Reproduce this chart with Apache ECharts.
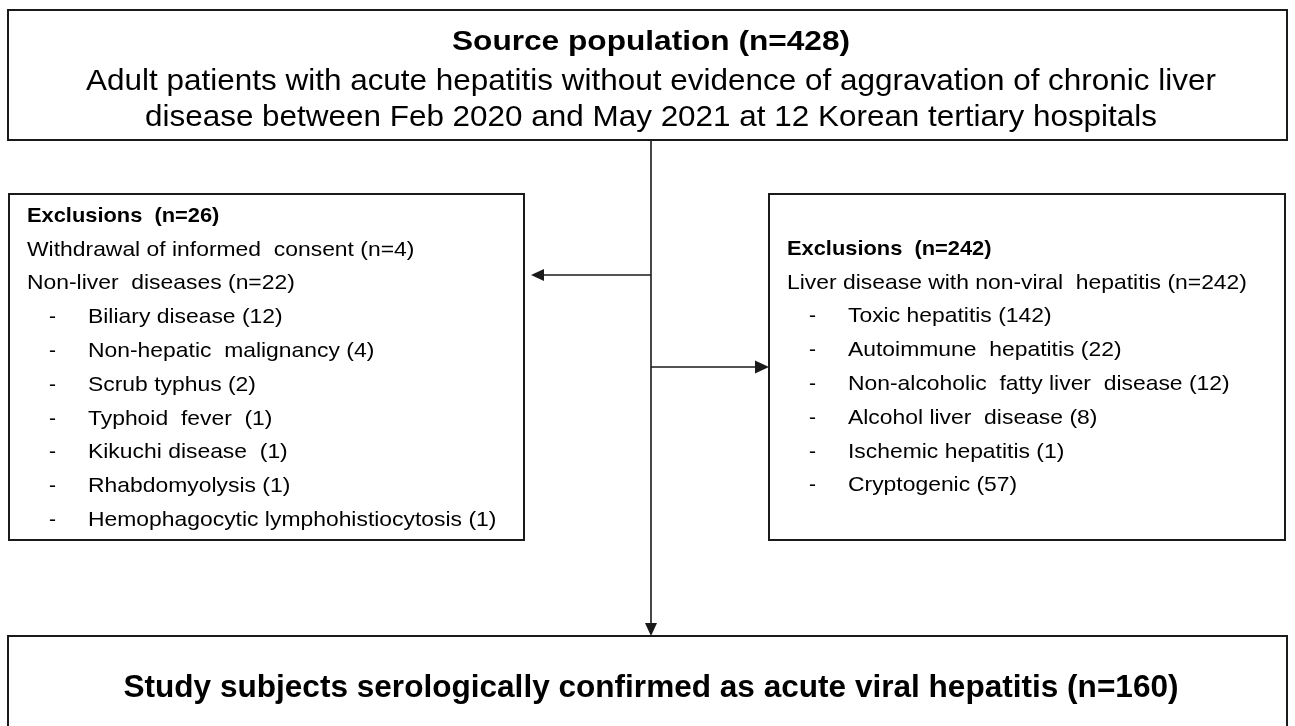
<!DOCTYPE html>
<html>
<head>
<meta charset="utf-8">
<script src="https://cdn.jsdelivr.net/npm/echarts@6/dist/echarts.min.js"></script>
<style>
html, body { margin: 0; padding: 0; background: #fff; }
#chart { width: 1295px; height: 726px; }
</style>
</head>
<body>
<div id="chart"></div>
<script>
// texts of the flow chart
let sourceTitle = 'Source population (n=428)';
let sourceLines = [
    'Adult patients with acute hepatitis without evidence of aggravation of chronic liver',
    'disease between Feb 2020 and May 2021 at 12 Korean tertiary hospitals'
];
let leftTitle = 'Exclusions  (n=26)';
let leftLines = ['Withdrawal of informed  consent (n=4)', 'Non-liver  diseases (n=22)'];
let leftItems = [
    'Biliary disease (12)',
    'Non-hepatic  malignancy (4)',
    'Scrub typhus (2)',
    'Typhoid  fever  (1)',
    'Kikuchi disease  (1)',
    'Rhabdomyolysis (1)',
    'Hemophagocytic lymphohistiocytosis (1)'
];
let rightTitle = 'Exclusions  (n=242)';
let rightLines = ['Liver disease with non-viral  hepatitis (n=242)'];
let rightItems = [
    'Toxic hepatitis (142)',
    'Autoimmune  hepatitis (22)',
    'Non-alcoholic  fatty liver  disease (12)',
    'Alcohol liver  disease (8)',
    'Ischemic hepatitis (1)',
    'Cryptogenic (57)'
];
let finalText = 'Study subjects serologically confirmed as acute viral hepatitis (n=160)';

// layout
const FONT = '"Liberation Sans", Arial, sans-serif';
const STROKE = '#1a1a1a';
const topBox = {x: 8, y: 10, w: 1279, h: 130};
const leftBox = {x: 9, y: 194, w: 515, h: 346};
const rightBox = {x: 769, y: 194, w: 516, h: 346};
const bottomBox = {x: 8, y: 636, w: 1279, h: 120};
const spineX = 651;
const step = 33.8;
const boxStretch = 1.09;

let measure = document.createElement('canvas').getContext('2d');
function fontOf(size, weight) {
    return weight + ' ' + size + 'px ' + FONT;
}
function box(b) {
    return {
        type: 'rect',
        shape: {x: b.x, y: b.y, width: b.w, height: b.h},
        style: {fill: '#fff', stroke: STROKE, lineWidth: 2}
    };
}
function txt(x, y, s, size, weight, align, sx) {
    return {
        type: 'text', x: x, y: y, scaleX: sx || 1,
        style: {
            text: s, font: fontOf(size, weight), fill: '#000',
            align: align, verticalAlign: 'middle'
        }
    };
}
// centred text stretched to a given width
function fitted(y, s, size, weight, width) {
    measure.font = fontOf(size, weight);
    return txt(spineX, y, s, size, weight, 'center', width / measure.measureText(s).width);
}
function line(x1, y1, x2, y2) {
    return {
        type: 'line',
        shape: {x1: x1, y1: y1, x2: x2, y2: y2},
        style: {stroke: STROKE, lineWidth: 1.6}
    };
}
function head(pts) {
    return {type: 'polygon', shape: {points: pts}, style: {fill: STROKE}};
}
function listBox(b, title, lines, items, x0, y0) {
    let out = [box(b)];
    let y = y0;
    out.push(txt(x0, y, title, 21, 'bold', 'left', 1.04));
    lines.forEach(function (s) {
        y += step;
        out.push(txt(x0, y, s, 21, 'normal', 'left', boxStretch));
    });
    items.forEach(function (s) {
        y += step;
        out.push(txt(x0 + 22, y, '-', 21, 'normal', 'left'));
        out.push(txt(x0 + 61, y, s, 21, 'normal', 'left', boxStretch));
    });
    return out;
}

let elements = [];
elements.push(line(spineX, topBox.y + topBox.h, spineX, bottomBox.y - 12));
elements.push(line(spineX, 275, 544, 275));
elements.push(head([[531, 275], [544, 269], [544, 281]]));
elements.push(line(spineX, 367, 756, 367));
elements.push(head([[769, 367], [755, 360.5], [755, 373.5]]));
elements.push(head([[spineX, bottomBox.y], [spineX - 6, bottomBox.y - 13], [spineX + 6, bottomBox.y - 13]]));

elements.push(box(topBox));
elements.push(fitted(42, sourceTitle, 28, 'bold', 398));
elements.push(fitted(82, sourceLines[0], 29, 'normal', 1130));
elements.push(fitted(118, sourceLines[1], 29, 'normal', 1012));

elements = elements.concat(listBox(leftBox, leftTitle, leftLines, leftItems, 27, 216));
elements = elements.concat(listBox(rightBox, rightTitle, rightLines, rightItems, 787, 249));

elements.push(box(bottomBox));
elements.push(fitted(688, finalText, 32, 'bold', 1055));

let chart = echarts.init(document.getElementById('chart'));
chart.setOption({
    animation: false,
    backgroundColor: '#fff',
    graphic: {elements: elements}
});
</script>
</body>
</html>
